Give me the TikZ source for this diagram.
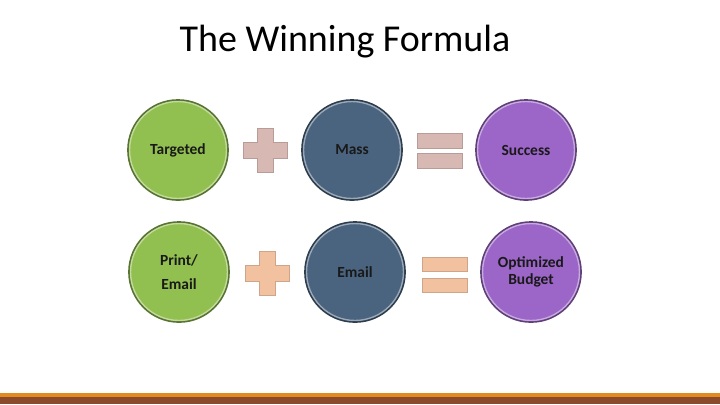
\documentclass[tikz,border=0pt]{standalone}
\usepackage{fontspec}
\setmainfont{Carlito}
\usetikzlibrary{calc}

\definecolor{ballgreen}{HTML}{92C050}
\definecolor{ballblue}{HTML}{4A6480}
\definecolor{ballpurple}{HTML}{9C66C8}
\definecolor{signgray}{HTML}{D8B8B2}
\definecolor{signpeach}{HTML}{F2C2A0}
\definecolor{barorange}{HTML}{E48A22}
\definecolor{barbrown}{HTML}{8A4A2C}

\tikzset{
  ball/.style={circle,minimum size=2.5cm,inner sep=0pt,align=center,
    font=\fontsize{11}{12.5}\selectfont\bfseries,text=black!90,
    draw=#1!60!black,line width=1.2pt,fill=#1},
  sign/.style={fill=#1,draw=#1!85!black,line width=0.5pt}
}

\begin{document}
\begin{tikzpicture}[x=0.025cm,y=-0.025cm]

\useasboundingbox (0,0) rectangle (720,404);

% ============================================================
% 1. TITLE
% ============================================================

\node[font=\fontsize{27}{32}\selectfont] (title) at (345,42) {The Winning Formula};

% ============================================================
% 2. BALLS
% ============================================================

\node[ball=ballgreen]  (targeted) at (178,150) {Targeted};
\node[ball=ballblue]   (mass)     at (352,150) {Mass};
\node[ball=ballpurple] (success)  at (526,150) {Success};

\node[ball=ballgreen]  (print)    at (179,272) {Print/\\[5pt]Email};
\node[ball=ballblue]   (email)    at (355,272) {Email};
\node[ball=ballpurple] (budget)   at (531,272) {Optimized\\Budget};

% light inner rim
\foreach \b in {targeted,mass,success,print,email,budget}{
  \draw[white,opacity=0.45,line width=1pt] (\b.center) circle (48.5);
}

% ============================================================
% 3. PLUS AND EQUALS SIGNS
% ============================================================

% plus signs (centre, colour)
\foreach \cx/\cy/\c in {265/150/signgray,267/273/signpeach}{
  \filldraw[sign=\c]
    (\cx-8,\cy-22) -- (\cx+8,\cy-22) -- (\cx+8,\cy-8) -- (\cx+22,\cy-8)
    -- (\cx+22,\cy+8) -- (\cx+8,\cy+8) -- (\cx+8,\cy+22) -- (\cx-8,\cy+22)
    -- (\cx-8,\cy+8) -- (\cx-22,\cy+8) -- (\cx-22,\cy-8) -- (\cx-8,\cy-8) -- cycle;
}

% equals signs
\filldraw[sign=signgray] (417,133) rectangle (462,148);
\filldraw[sign=signgray] (417,153) rectangle (462,168);
\filldraw[sign=signpeach] (422,257) rectangle (467,271);
\filldraw[sign=signpeach] (422,278) rectangle (467,292);

% ============================================================
% 4. BOTTOM BAR
% ============================================================

\fill[barorange] (0,393) rectangle (720,397);
\fill[barbrown]  (0,397) rectangle (720,404);

\end{tikzpicture}
\end{document}
